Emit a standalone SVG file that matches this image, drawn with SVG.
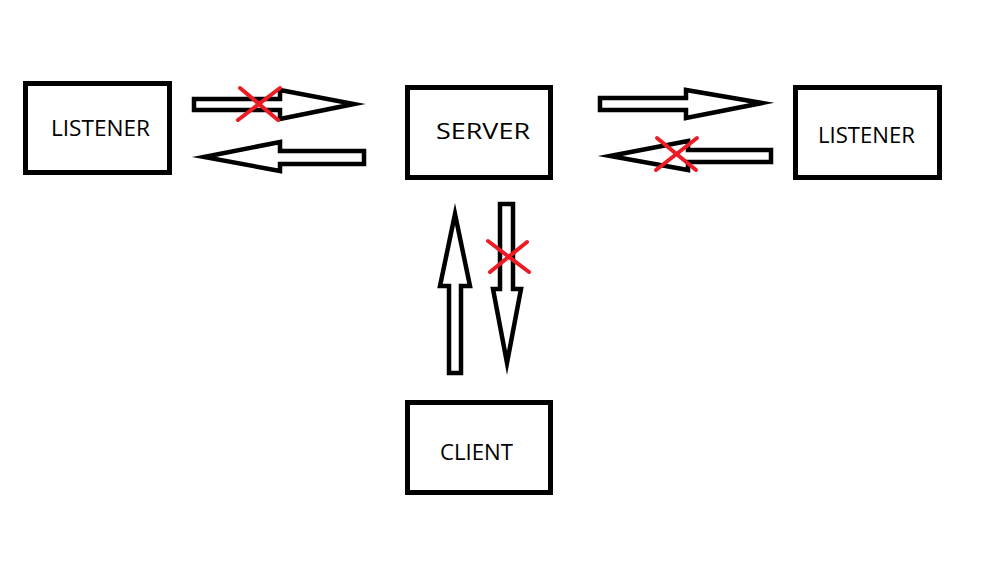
<svg xmlns="http://www.w3.org/2000/svg" width="996" height="571" viewBox="0 0 996 571">
<style>
.box{fill:#fff;stroke:#000;stroke-width:5}
.lbl{font-family:"Open Sans","Liberation Sans",sans-serif;font-size:21px;fill:#000}
.arr{fill:#fff;stroke:#000;stroke-width:4.5;stroke-linejoin:miter;stroke-miterlimit:20}
.x{stroke:#ED1C24;stroke-width:4;stroke-linecap:round}
</style>
<rect width="996" height="571" fill="#fff"/>
<g id="listener-left"><rect class="box" x="25.5" y="83.5" width="144" height="89"/><text class="lbl" x="51" y="136" textLength="99" lengthAdjust="spacingAndGlyphs">LISTENER</text></g>
<g id="server"><rect class="box" x="407.5" y="87.5" width="143" height="90"/><text class="lbl" x="436" y="139" textLength="94" lengthAdjust="spacingAndGlyphs">SERVER</text></g>
<g id="listener-right"><rect class="box" x="795.5" y="87.5" width="144" height="90"/><text class="lbl" x="818" y="143" textLength="97" lengthAdjust="spacingAndGlyphs">LISTENER</text></g>
<g id="client"><rect class="box" x="407.5" y="402.5" width="143" height="90"/><text class="lbl" x="440" y="460" textLength="73" lengthAdjust="spacingAndGlyphs">CLIENT</text></g>
<g id="connectors">
<polygon class="arr" points="194,99 280,99 280,90 354,104 280,119 280,110 194,110"/>
<polygon class="arr" points="204,157 280,142 280,151 364,151 364,164 280,164 280,171"/>
<polygon class="arr" points="600,98 686,98 686,90 762,103 686,118 686,110 600,110"/>
<polygon class="arr" points="610,156 688,141 688,150 771,150 771,162 688,162 688,170"/>
<polygon class="arr" points="455,214 470,286 461,286 461,373 449,373 449,286 440,286"/>
<polygon class="arr" points="500,204 513,204 513,289 521,289 507,363 493,289 500,289"/>
</g>
<g id="crosses">
<line class="x" x1="240" y1="88" x2="278" y2="120"/><line class="x" x1="280" y1="88" x2="238" y2="120"/>
<line class="x" x1="657" y1="138" x2="696" y2="170"/><line class="x" x1="697" y1="138" x2="656" y2="170"/>
<line class="x" x1="488" y1="241" x2="529" y2="272"/><line class="x" x1="527" y1="242" x2="490" y2="272"/>
</g>
</svg>
